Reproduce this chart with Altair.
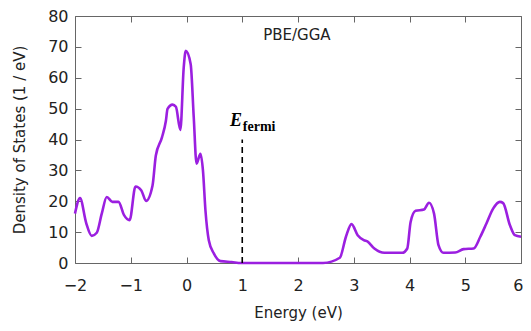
import altair as alt
import pandas as pd

energy = [-2.0, -1.91, -1.80, -1.70, -1.61, -1.52, -1.43, -1.33, -1.22, -1.12,
          -1.02, -0.915, -0.81, -0.725, -0.61, -0.55, -0.44, -0.37, -0.34, -0.25,
          -0.19, -0.11, -0.05, -0.013, 0.075, 0.13, 0.18, 0.25, 0.295, 0.34,
          0.40, 0.49, 0.61, 0.81, 0.98, 2.45, 2.75, 2.86, 2.96, 3.07,
          3.18, 3.25, 3.37, 3.55, 3.87, 3.96, 4.02, 4.11, 4.26, 4.35,
          4.44, 4.52, 4.61, 4.82, 4.97, 5.15, 5.27, 5.38, 5.50, 5.62,
          5.68, 5.80, 5.89, 6.0]
dos = [16, 21, 13, 8.8, 9.8, 16, 21.4, 19.8, 19.8, 15.5,
       13.9, 24.8, 23.5, 20.1, 25, 34.8, 40.7, 46, 49.9, 51.3,
       50.6, 43.1, 63.3, 68.7, 64.4, 47.2, 32.2, 35.4, 30, 17,
       7.4, 3.1, 0.6, 0.3, 0, 0, 1.7, 8.5, 12.6, 9,
       7.4, 6.9, 4.7, 3.3, 3.3, 4.7, 13.3, 16.9, 17.3, 19.5,
       16, 5.8, 3.3, 3.4, 4.5, 4.7, 8.5, 12.8, 17.6, 19.8,
       19.4, 12.3, 9, 8.5]

x_ticks = [-2, -1, 0, 1, 2, 3, 4, 5, 6]
y_ticks = [0, 10, 20, 30, 40, 50, 60, 70, 80]

fermi_energy = [1.0]
fermi_top = [40]

df = pd.DataFrame({"E": energy, "DOS": dos})
fermi_df = pd.DataFrame({"E": fermi_energy, "y0": [0], "y1": fermi_top})
e_label = pd.DataFrame({"E": [0.78], "y": [44.5], "t": ["E"]})
sub_label = pd.DataFrame({"E": [1.01], "y": [42.8], "t": ["fermi"]})
method_label = pd.DataFrame({"E": [1.98], "y": [72.3], "t": ["PBE/GGA"]})

xs = alt.Scale(domain=[-2, 6], nice=False, zero=False)
ys = alt.Scale(domain=[0, 80], nice=False)

FONT = "DejaVu Sans"
TICK_COLOR = "#666666"
TEXT_COLOR = "#222222"

x_axis = alt.Axis(values=x_ticks, title="Energy (eV)", offset=-6, tickSize=6,
                  domain=False, grid=False, tickColor=TICK_COLOR, labelPadding=14,
                  labelFlush=False,
                  labelAlign={"condition": {"test": "datum.value >= 6", "value": "right"},
                              "value": "center"},
                  labelOffset={"condition": {"test": "datum.value >= 6", "value": 2},
                               "value": 0},
                  labelFont=FONT, labelFontSize=16, labelColor=TEXT_COLOR,
                  titleFont=FONT, titleFontSize=15, titleFontWeight="normal",
                  titleColor=TEXT_COLOR, titlePadding=12, orient="bottom")
y_axis = alt.Axis(values=y_ticks, title="Density of States (1 / eV)", offset=-6,
                  tickSize=6, domain=False, grid=False, tickColor=TICK_COLOR,
                  labelPadding=7, labelFont=FONT, labelFontSize=16, labelFlush=False,
                  labelColor=TEXT_COLOR, titleFont=FONT, titleFontSize=15,
                  titleFontWeight="normal", titleColor=TEXT_COLOR, titlePadding=20,
                  orient="left")

line = alt.Chart(df).mark_line(color="#9b1fe0", strokeWidth=2.6,
                               interpolate="monotone").encode(
    x=alt.X("E:Q", scale=xs, axis=x_axis),
    y=alt.Y("DOS:Q", scale=ys, axis=y_axis),
)

x_mirror = alt.Axis(values=x_ticks, orient="top", offset=-6, tickSize=6,
                    labels=False, domain=False, grid=False, title=None,
                    tickColor=TICK_COLOR)
y_mirror = alt.Axis(values=y_ticks, orient="right", offset=-6, tickSize=6,
                    labels=False, domain=False, grid=False, title=None,
                    tickColor=TICK_COLOR)

fermi = alt.Chart(fermi_df).mark_rule(color="black", strokeWidth=1.6,
                                      strokeDash=[6, 4]).encode(
    x=alt.X("E:Q", scale=xs, axis=x_mirror),
    y=alt.Y("y0:Q", scale=ys, axis=y_mirror),
    y2="y1:Q",
)

e_text = alt.Chart(e_label).mark_text(font="Liberation Serif", fontSize=18,
                                      fontStyle="italic", fontWeight="bold",
                                      color="black", align="left",
                                      baseline="alphabetic").encode(
    x=alt.X("E:Q", scale=xs, axis=None),
    y=alt.Y("y:Q", scale=ys, axis=None),
    text="t:N",
)
sub_text = alt.Chart(sub_label).mark_text(font="Liberation Serif", fontSize=14,
                                          fontWeight="bold", color="black",
                                          align="left",
                                          baseline="alphabetic").encode(
    x=alt.X("E:Q", scale=xs, axis=None),
    y=alt.Y("y:Q", scale=ys, axis=None),
    text="t:N",
)
method_text = alt.Chart(method_label).mark_text(font=FONT, fontSize=15,
                                                color=TEXT_COLOR, align="center",
                                                baseline="alphabetic").encode(
    x=alt.X("E:Q", scale=xs, axis=None),
    y=alt.Y("y:Q", scale=ys, axis=None),
    text="t:N",
)

chart = alt.layer(line, fermi, e_text, sub_text, method_text).resolve_axis(
    x="independent", y="independent"
).properties(
    width=446, height=247,
    autosize=alt.AutoSizeParams(type="none"),
    padding={"left": 67, "top": 8, "right": 2, "bottom": 60},
    background="white",
).configure_view(stroke=TICK_COLOR, strokeWidth=1)

chart.save("out.html", embed_options={"renderer": "svg", "actions": False})
